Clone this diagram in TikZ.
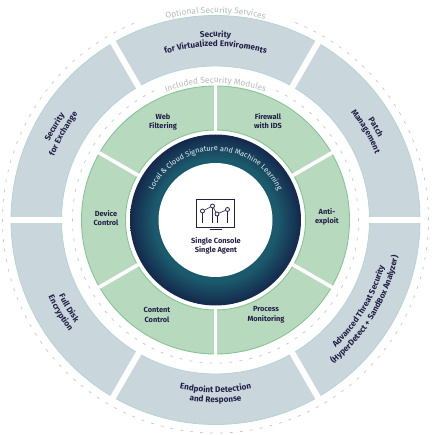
\documentclass[tikz,border=0pt]{standalone}
\usepackage{fontspec}
\setmainfont{Fira Sans}
\usetikzlibrary{decorations.text}

\definecolor{inkblue}{HTML}{231F48}
\definecolor{slatefill}{HTML}{C9D7DC}
\definecolor{slaterim}{HTML}{B4D4D8}
\definecolor{leaffill}{HTML}{B7D9BD}
\definecolor{leafrim}{HTML}{84C692}
\definecolor{dashgrey}{HTML}{C4C8C8}
\definecolor{capgrey}{HTML}{B4B9B9}
\definecolor{ringdark}{HTML}{14284C}
\definecolor{ringteal}{HTML}{1B5A6C}
\definecolor{ringtext}{HTML}{E4ECEE}
\pgfdeclareradialshading{ringglow}{\pgfpoint{0bp}{0bp}}{color(0bp)=(ringteal);color(18bp)=(ringteal);color(25bp)=(ringdark);color(50bp)=(ringdark)}

\newcommand{\segfont}{\fontsize{8.2}{9}\selectfont\bfseries\color{inkblue}}
\newcommand{\capfont}{\fontsize{8.4}{9}\selectfont\color{capgrey}}
\newcommand{\ringfont}{\fontsize{7.4}{9}\selectfont\color{ringtext}}
\newcommand{\overarc}[4]{\path[arctext={|#4|#3}] (#1+45:#2) arc[start angle=#1+45, end angle=#1-45, radius=#2];}
\newcommand{\underarc}[4]{\path[arctext={|#4|#3}] (#1-45:#2) arc[start angle=#1-45, end angle=#1+45, radius=#2];}

\begin{document}
\begin{tikzpicture}[x=1pt, y=1pt,
  arctext/.style={decorate, decoration={text along path, text align=center, text={#1}}},
  modlabel/.style={align=center, inner sep=0pt, text=inkblue, font=\fontsize{7.4}{9.5}\selectfont\bfseries},
  dashring/.style={dashgrey, line width=0.7pt, dash pattern=on 3pt off 7pt}]
\useasboundingbox (-215.5,-215) rectangle (215.5,220);

\draw[slaterim, fill=slatefill, line width=0.8pt, even odd rule] (0,0) circle[radius=204.5] (0,0) circle[radius=154];
\foreach \ang in {0,60,...,300}
  \draw[white, line width=6pt] (\ang:150) -- (\ang:208);

\draw[dashring] (68:213) arc[start angle=68, end angle=-248, radius=213];
\draw[dashring] (65:143) arc[start angle=65, end angle=-245, radius=143];

\draw[leafrim, fill=leaffill, line width=0.9pt, even odd rule] (0,0) circle[radius=134] (0,0) circle[radius=90];
\foreach \ang in {30,90,...,330}
  \draw[white, line width=3.6pt] (\ang:87) -- (\ang:136);

\shade[shading=ringglow] (0,0) circle[radius=85.5];
\fill[white] (0,0) circle[radius=57];

\overarc{90}{207}{Optional Security Services}{\capfont}
\overarc{90}{137}{Included Security Modules}{\capfont}
\path[arctext={|\ringfont|Local {\&} Cloud Signature and Machine Learning}] (160:69) arc[start angle=160, end angle=20, radius=69];

\overarc{90}{183}{Security}{\segfont}
\overarc{90}{173.5}{for Virtualized Enviroments}{\segfont}
\overarc{30}{182.5}{Patch}{\segfont}
\overarc{30.5}{173}{Management}{\segfont}
\overarc{150}{183.5}{Security}{\segfont}
\overarc{150.5}{173.5}{for Exchange}{\segfont}
\underarc{270}{172.5}{Endpoint Detection}{\segfont}
\underarc{270}{182.5}{and Response}{\segfont}
\underarc{211}{174}{Full Disk}{\segfont}
\underarc{211}{184}{Encryption}{\segfont}
\underarc{-31}{175}{Advanced Threat Security}{\segfont}
\underarc{-31}{186}{(HyperDetect + SandBox Analyzer)}{\segfont}

\foreach \name/\x/\y/\txt in {web/-52.5/98/Web\\Filtering, firewall/52.5/99/Firewall\\with IDS, antiexploit/111.5/3/Anti-\\exploit, process/50.5/-95/Process\\Monitoring, content/-58.5/-95/Content\\Control, device/-109.5/2/Device\\Control}
  \node[modlabel] (\name) at (\x,\y) {\txt};
\node[modlabel] (console) at (0.5,-26) {Single Console\\Single Agent};

\draw[inkblue, line width=0.8pt] (-19.5,-7) rectangle (18.5,21);
\draw[inkblue, line width=0.8pt] (-6,-9.5) -- (6,-9.5);
\foreach \x/\y [count=\i] in {-13/9, -3/14, 1.5/6, 12/10.5}{
  \node[draw=inkblue, circle, line width=0.8pt, minimum size=4pt, inner sep=0pt] (dot\i) at (\x,\y) {};
  \draw[inkblue, line width=0.6pt] (dot\i) -- (\x,-3);
}
\draw[inkblue, line width=0.6pt] (dot1) -- (dot2);
\draw[inkblue, line width=0.6pt] (dot2) -- (dot3);
\draw[inkblue, line width=0.6pt] (dot3) -- (dot4);
\end{tikzpicture}
\end{document}
